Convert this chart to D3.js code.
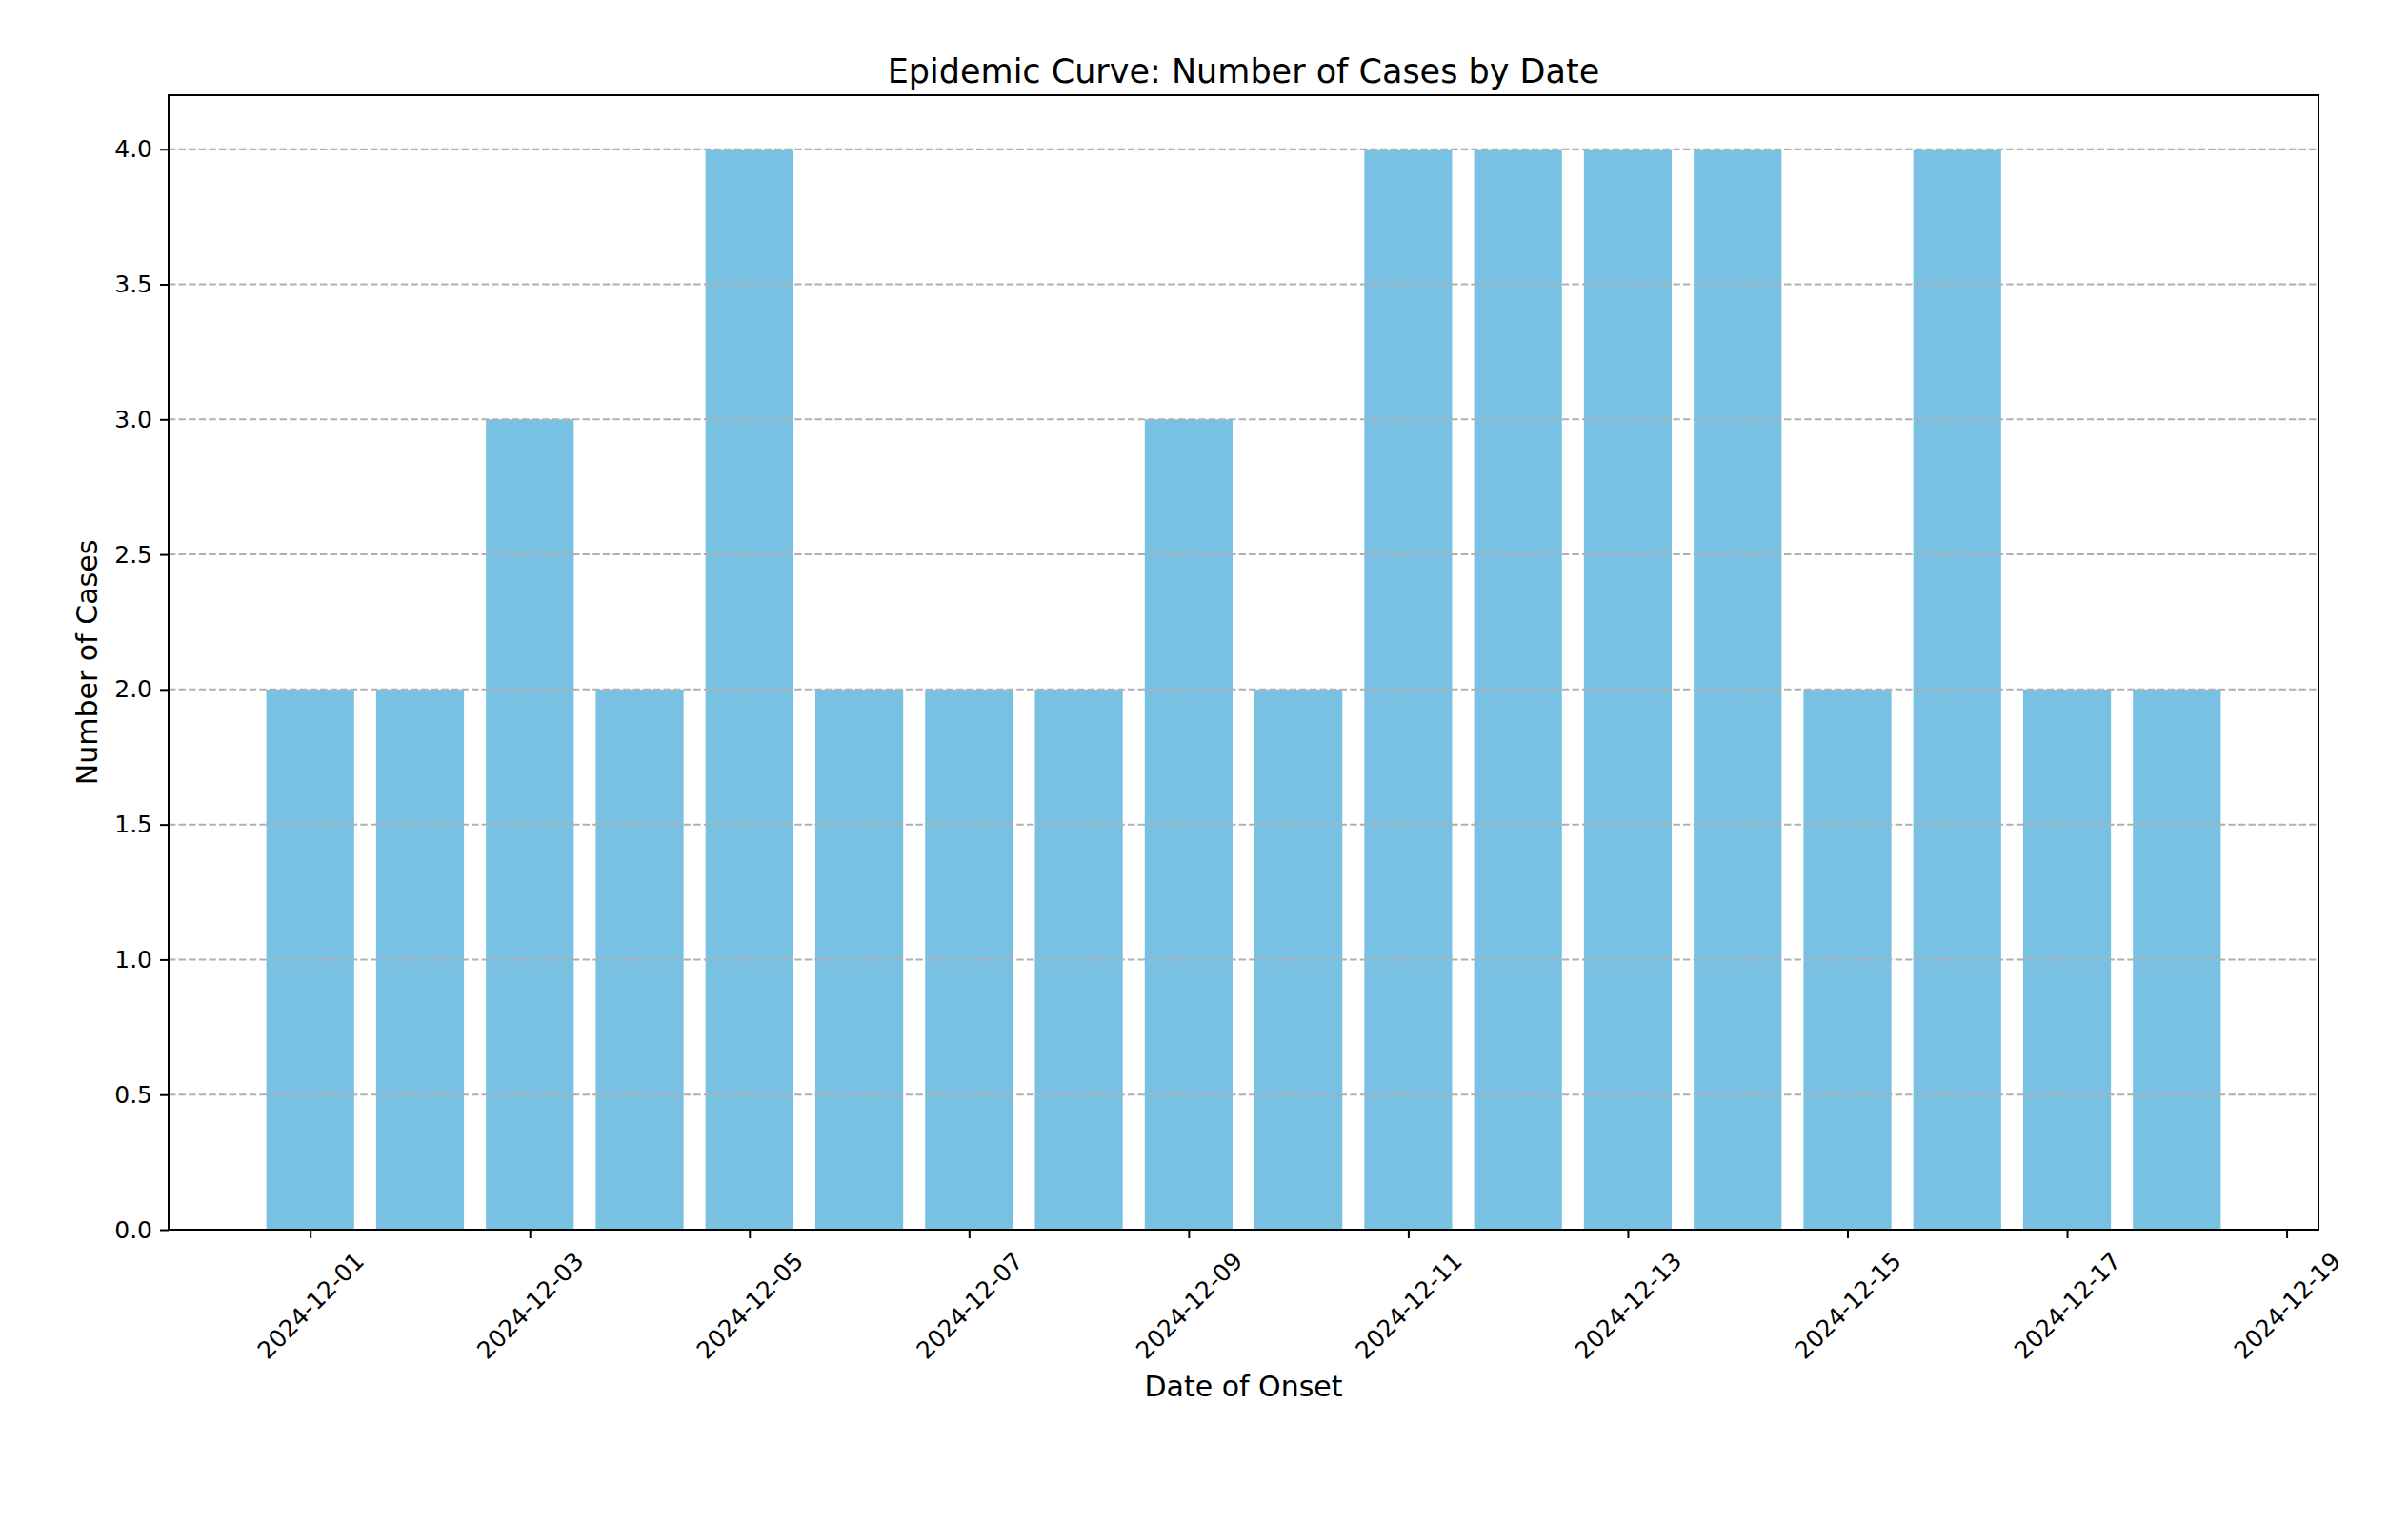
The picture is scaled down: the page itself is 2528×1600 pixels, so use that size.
<!DOCTYPE html>
<html>
<head>
<meta charset="utf-8">
<script src="https://cdn.jsdelivr.net/npm/d3@7"></script>
<style>
  body { margin: 0; background: #fff; }
  text { font-family: "DejaVu Sans", sans-serif; fill: #000; }
</style>
</head>
<body>
<svg id="chart"></svg>
<script>
// data
var dates = ['2024-12-01','2024-12-02','2024-12-03','2024-12-04','2024-12-05','2024-12-06',
             '2024-12-07','2024-12-08','2024-12-09','2024-12-10','2024-12-11','2024-12-12',
             '2024-12-13','2024-12-14','2024-12-15','2024-12-16','2024-12-17','2024-12-18'];
var cases = [2,2,3,2,4,2,2,2,3,2,4,4,4,4,2,4,2,2];
var xTickDates = ['2024-12-01','2024-12-03','2024-12-05','2024-12-07','2024-12-09',
                  '2024-12-11','2024-12-13','2024-12-15','2024-12-17','2024-12-19'];
var yTicks = [0,0.5,1,1.5,2,2.5,3,3.5,4];
var yMax = 4.2;

var W = 2528, H = 1600;
var margin = {left:177, right:94, top:100, bottom:309};
var DAY = 864e5;
var parse = d3.utcParse('%Y-%m-%d');
var fmt = d3.utcFormat('%Y-%m-%d');

var svg = d3.select('#chart')
  .attr('width', W)
  .attr('height', H);
svg.append('rect').attr('width', W).attr('height', H).attr('fill', '#fff');

var rows = dates.map(function(d, i){ return {date: parse(d), value: cases[i]}; });

// matplotlib-like auto limits: bar extents plus 5% margin
var lo = d3.min(rows, function(r){ return +r.date; }) - 0.4*DAY;
var hi = d3.max(rows, function(r){ return +r.date; }) + 0.4*DAY;
var padX = (hi - lo) * 0.05;

var x = d3.scaleUtc()
  .domain([new Date(lo - padX), new Date(hi + padX)])
  .range([margin.left, W - margin.right]);
var y = d3.scaleLinear()
  .domain([0, yMax])
  .range([H - margin.bottom, margin.top]);

// bars
svg.append('g').selectAll('rect')
  .data(rows)
  .enter().append('rect')
    .attr('x', function(r){ return x(new Date(+r.date - 0.4*DAY)); })
    .attr('width', function(r){ return x(new Date(+r.date + 0.4*DAY)) - x(new Date(+r.date - 0.4*DAY)); })
    .attr('y', function(r){ return y(r.value); })
    .attr('height', function(r){ return y(0) - y(r.value); })
    .attr('fill', '#78c1e3');

// horizontal grid, drawn over the bars
svg.append('g').selectAll('line')
  .data(yTicks)
  .enter().append('line')
    .attr('x1', margin.left)
    .attr('x2', W - margin.right)
    .attr('y1', function(d){ return y(d); })
    .attr('y2', function(d){ return y(d); })
    .attr('stroke', '#b0b0b0')
    .attr('stroke-width', 2)
    .attr('stroke-dasharray', '7.4,3.2');

// frame
svg.append('rect')
  .attr('x', margin.left)
  .attr('y', margin.top)
  .attr('width', W - margin.right - margin.left)
  .attr('height', H - margin.bottom - margin.top)
  .attr('fill', 'none')
  .attr('stroke', '#000')
  .attr('stroke-width', 2);

// y axis
var yAxis = svg.append('g')
  .attr('transform', 'translate(' + margin.left + ',0)')
  .call(d3.axisLeft(y).tickValues(yTicks).tickFormat(d3.format('.1f')).tickSize(9).tickPadding(8));
yAxis.select('.domain').remove();
yAxis.selectAll('.tick line').attr('stroke-width', 2);
yAxis.selectAll('text').style('font-size', '25px').attr('font-family', null);

// x axis
var xAxis = svg.append('g')
  .attr('transform', 'translate(0,' + (H - margin.bottom) + ')')
  .call(d3.axisBottom(x).tickValues(xTickDates.map(parse)).tickFormat(fmt).tickSize(9).tickPadding(9));
xAxis.select('.domain').remove();
xAxis.selectAll('.tick line').attr('stroke-width', 2);
xAxis.selectAll('text')
  .style('font-size', '25px')
  .attr('font-family', null)
  .attr('text-anchor', 'middle')
  .attr('y', 0)
  .attr('dy', '0.35em')
  .attr('transform', function(){
     var w = this.getComputedTextLength();
     var bh = (w + 25*1.16) * Math.SQRT1_2;
     return 'translate(0,' + (18 + bh/2) + ') rotate(-45)';
  });

// titles
svg.append('text')
  .attr('x', (margin.left + W - margin.right)/2)
  .attr('y', 87)
  .attr('text-anchor', 'middle')
  .style('font-size', '35px')
  .text('Epidemic Curve: Number of Cases by Date');

svg.append('text')
  .attr('x', (margin.left + W - margin.right)/2)
  .attr('y', 1466)
  .attr('text-anchor', 'middle')
  .style('font-size', '30px')
  .text('Date of Onset');

svg.append('text')
  .attr('transform', 'translate(102,' + ((margin.top + H - margin.bottom)/2) + ') rotate(-90)')
  .attr('text-anchor', 'middle')
  .style('font-size', '30px')
  .text('Number of Cases');
</script>
</body>
</html>
